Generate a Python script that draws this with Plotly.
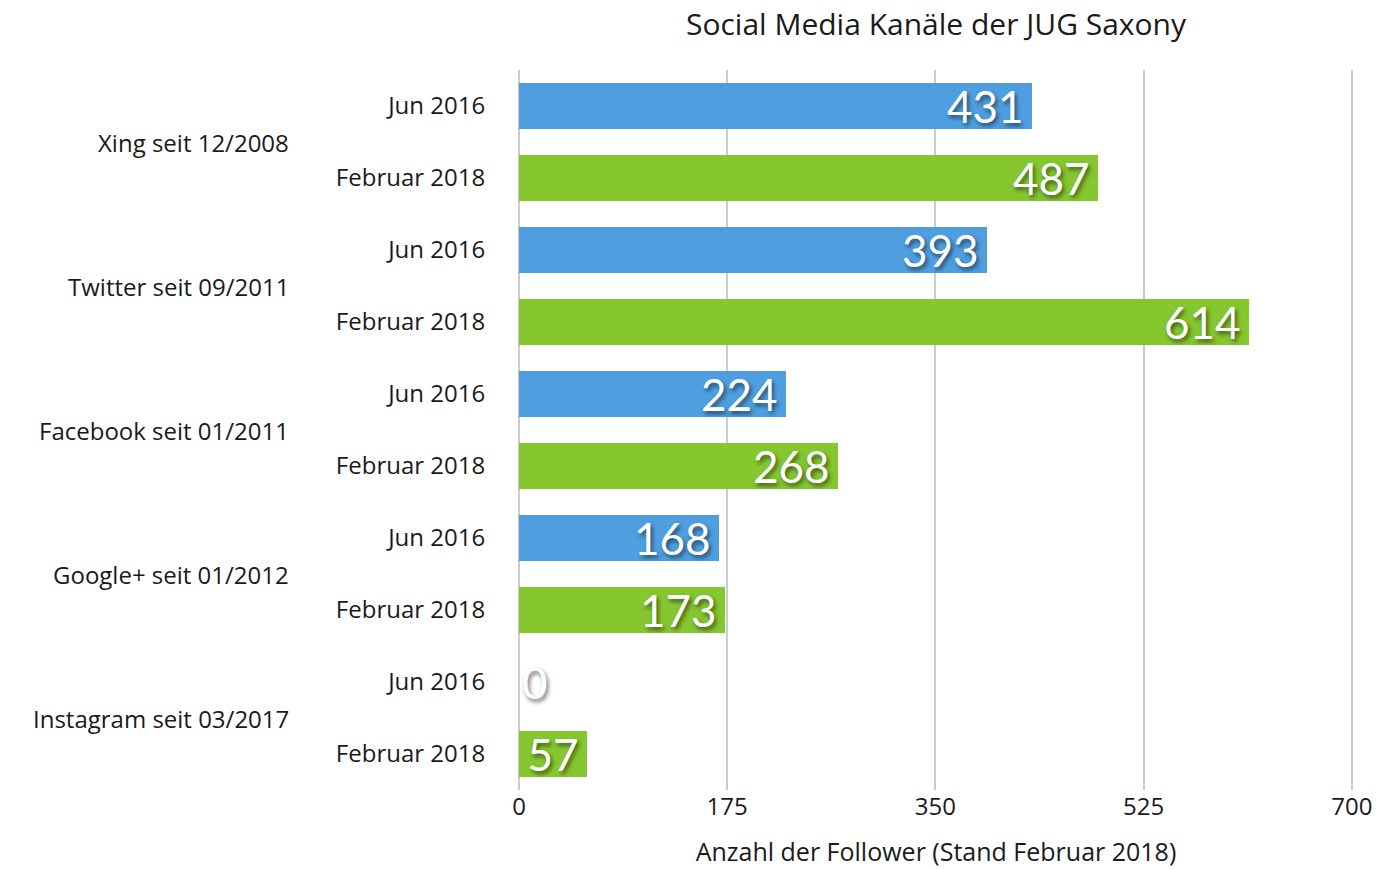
import plotly.graph_objects as go

platforms = ["Xing seit 12/2008", "Twitter seit 09/2011", "Facebook seit 01/2011",
             "Google+ seit 01/2012", "Instagram seit 03/2017"]
periods = ["Jun 2016", "Februar 2018"]
jun_2016 = [431, 393, 224, 168, 0]
feb_2018 = [487, 614, 268, 173, 57]
x_ticks = [0, 175, 350, 525, 700]

title = "Social Media Kanäle der JUG Saxony"
x_title = "Anzahl der Follower (Stand Februar 2018)"

BLUE = "#4f9fe0"
GREEN = "#86c72f"
FONT = "Open Sans"
LABEL_FONT = "Lato"
TXT = "#1a1a1a"

n = len(platforms)
pos_jun = [2 * i for i in range(n)]
pos_feb = [2 * i + 1 for i in range(n)]
tickvals = []
ticktext = []
for i in range(n):
    tickvals += [2 * i, 2 * i + 1]
    ticktext += periods

shadow = "2px 3px 4px rgba(0,0,0,0.55)"

def positions(vals):
    return ["outside" if v == 0 else "inside" for v in vals]

def bar(vals, ys, name, color):
    return go.Bar(
        x=vals, y=ys, orientation="h", name=name,
        marker=dict(color=color, line=dict(width=0)), width=0.63,
        text=[f"{v}\u2009" for v in vals], textposition=positions(vals),
        insidetextanchor="end", textangle=0, constraintext="none",
        textfont=dict(family=LABEL_FONT, size=44, color="white", shadow=shadow),
        cliponaxis=False, hoverinfo="skip",
    )

fig = go.Figure()
fig.add_trace(bar(jun_2016, pos_jun, periods[0], BLUE))
fig.add_trace(bar(feb_2018, pos_feb, periods[1], GREEN))

annotations = []
for i, p in enumerate(platforms):
    annotations.append(dict(
        text=p, xref="paper", yref="y", x=-228 / 834, y=2 * i + 0.5,
        xanchor="right", yanchor="middle", showarrow=False,
        font=dict(family=FONT, size=24, color=TXT),
    ))

fig.update_layout(
    width=1380, height=869,
    margin=dict(l=519, r=27, t=70, b=79),
    plot_bgcolor="white", paper_bgcolor="white",
    showlegend=False,
    bargap=0,
    title=dict(text=title, x=936 / 1380, xanchor="center", y=1 - 24 / 869, yanchor="middle",
               font=dict(family=FONT, size=30, color=TXT)),
    annotations=annotations,
    xaxis=dict(
        range=[0, 701], tickvals=x_ticks, showgrid=True, gridcolor="#cccccc", gridwidth=2,
        zeroline=True, zerolinecolor="#cccccc", zerolinewidth=2, showline=False, ticks="",
        automargin=False,
        tickfont=dict(family=FONT, size=24, color=TXT),
        title=dict(text=x_title, font=dict(family=FONT, size=25, color=TXT), standoff=22),
    ),
    yaxis=dict(
        range=[n * 2 - 0.5, -0.5], tickvals=tickvals, ticktext=ticktext,
        showgrid=False, zeroline=False, showline=False, ticks="outside", ticklen=28,
        tickcolor="rgba(0,0,0,0)", automargin=False,
        tickfont=dict(family=FONT, size=24, color=TXT),
    ),
)

fig.write_html("out.html", config={"displayModeBar": False},
               post_script="document.body.style.margin='0px';")
